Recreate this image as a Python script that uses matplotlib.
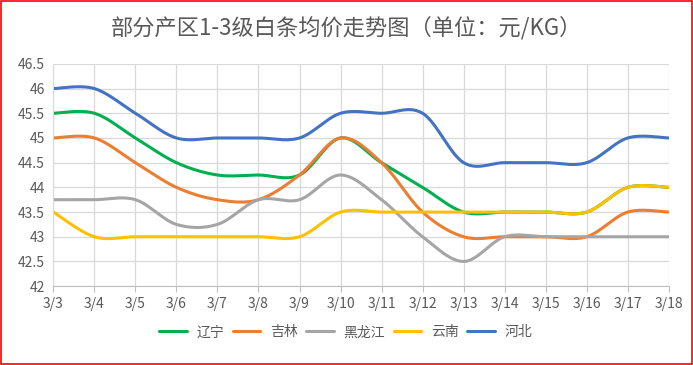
import numpy as np
import matplotlib.pyplot as plt

plt.rcParams['font.family'] = ['Noto Sans CJK SC', 'DejaVu Sans']

# 日期
dates = ['3/3', '3/4', '3/5', '3/6', '3/7', '3/8', '3/9', '3/10',
         '3/11', '3/12', '3/13', '3/14', '3/15', '3/16', '3/17', '3/18']

# 各产区价格
liaoning = [45.5, 45.5, 45, 44.5, 44.25, 44.25, 44.25, 45, 44.5, 44, 43.5, 43.5, 43.5, 43.5, 44, 44]
jilin = [45, 45, 44.5, 44, 43.75, 43.75, 44.25, 45, 44.5, 43.5, 43, 43, 43, 43, 43.5, 43.5]
heilongjiang = [43.75, 43.75, 43.75, 43.25, 43.25, 43.75, 43.75, 44.25, 43.75, 43, 42.5, 43, 43, 43, 43, 43]
yunnan = [43.5, 43, 43, 43, 43, 43, 43, 43.5, 43.5, 43.5, 43.5, 43.5, 43.5, 43.5, 44, 44]
hebei = [46, 46, 45.5, 45, 45, 45, 45, 45.5, 45.5, 45.5, 44.5, 44.5, 44.5, 44.5, 45, 45]

series = [('辽宁', liaoning, '#00b050'),
          ('吉林', jilin, '#ed7d31'),
          ('黑龙江', heilongjiang, '#a5a5a5'),
          ('云南', yunnan, '#ffc000'),
          ('河北', hebei, '#4472c4')]


def smooth(x, y, n=30):
    # 类似Excel的平滑线 (Catmull-Rom)
    x = np.asarray(x, float)
    y = np.asarray(y, float)
    px = np.concatenate([[x[0]], x, [x[-1]]])
    py = np.concatenate([[y[0]], y, [y[-1]]])
    xs, ys = [], []
    for i in range(1, len(px) - 2):
        p0, p1, p2, p3 = (np.array([px[j], py[j]]) for j in range(i - 1, i + 3))
        c1 = p1 + (p2 - p0) / 6
        c2 = p2 - (p3 - p1) / 6
        t = np.linspace(0, 1, n)[:, None]
        b = (1 - t) ** 3 * p1 + 3 * (1 - t) ** 2 * t * c1 + 3 * (1 - t) * t ** 2 * c2 + t ** 3 * p2
        xs.append(b[:, 0])
        ys.append(b[:, 1])
    return np.concatenate(xs), np.concatenate(ys)


fig = plt.figure(figsize=(6.93, 3.65), dpi=100)
ax = fig.add_axes([0.077, 0.216, 0.888, 0.609])

x = np.arange(len(dates))
for name, vals, color in series:
    sx, sy = smooth(x, vals)
    ax.plot(sx, sy, color=color, lw=2.2, label=name, solid_capstyle='round')

ax.set_xlim(0, len(dates) - 1)
ax.set_ylim(42, 46.5)
ax.set_yticks(np.arange(42, 46.51, 0.5))
ax.set_yticklabels(['42', '42.5', '43', '43.5', '44', '44.5', '45', '45.5', '46', '46.5'])
ax.set_xticks(x)
ax.set_xticklabels(dates)
ax.grid(True, color='#d9d9d9', lw=0.9)
ax.set_axisbelow(True)
for s in ['top', 'right']:
    ax.spines[s].set_visible(False)
ax.spines['left'].set_color('#d9d9d9')
ax.spines['bottom'].set_color('#bfbfbf')
ax.tick_params(axis='y', length=0, labelsize=10, colors='#595959', pad=6)
ax.tick_params(axis='x', length=4, color='#bfbfbf', labelsize=10, colors='#595959', pad=4)

fig.text(0.5, 0.925, '部分产区1-3级白条均价走势图（单位：元/KG）', ha='center', va='center',
         fontsize=16, color='#595959')

ax.legend(loc='upper center', bbox_to_anchor=(0.475, -0.12), ncol=5, frameon=False,
          fontsize=10, labelcolor='#595959', handlelength=2.0, columnspacing=0.6, handletextpad=0.7)

fig.patches.append(plt.Rectangle((0.001, 0.002), 0.997, 0.995, transform=fig.transFigure,
                                 fill=False, edgecolor='#ff0000', lw=1.2))

fig.savefig('out.png', dpi=100)
